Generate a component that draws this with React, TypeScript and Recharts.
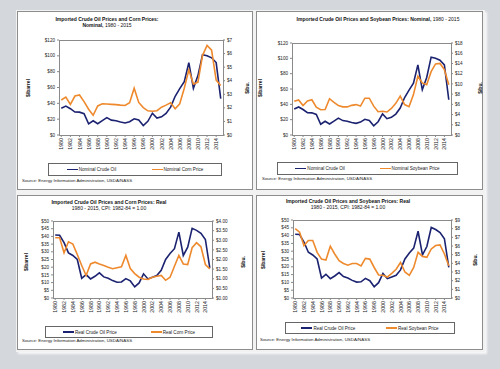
import React from 'react';
import { LineChart, Line, XAxis, YAxis } from 'recharts';

// Years on the category axis
const years = [
  '1980', '1981', '1982', '1983', '1984', '1985', '1986', '1987', '1988', '1989',
  '1990', '1991', '1992', '1993', '1994', '1995', '1996', '1997', '1998', '1999',
  '2000', '2001', '2002', '2003', '2004', '2005', '2006', '2007', '2008', '2009',
  '2010', '2011', '2012', '2013', '2014', '2015',
];

// $/barrel, nominal
const nominalCrude = [
  33.9, 36.5, 33.2, 29.0, 28.9, 26.9, 14.0, 17.9, 14.3, 18.1,
  22.0, 18.8, 18.0, 16.3, 15.2, 16.8, 20.5, 18.9, 12.0, 17.3,
  27.5, 21.3, 23.0, 27.3, 35.2, 48.9, 58.5, 67.5, 91.5, 59.0,
  75.0, 101.5, 100.0, 97.5, 91.5, 46.0,
];

// $/bu., nominal corn
const nominalCorn = [
  2.58, 2.8, 2.26, 2.87, 2.95, 2.46, 1.9, 1.45, 2.14, 2.3,
  2.28, 2.26, 2.24, 2.2, 2.17, 2.38, 3.45, 2.4, 2.02, 1.78,
  1.75, 1.79, 2.05, 2.2, 2.38, 1.94, 2.3, 3.45, 4.8, 3.75,
  3.9, 5.85, 6.6, 6.25, 4.05, 3.65,
];

// $/bu., nominal soybeans
const nominalSoy = [
  6.6, 6.85, 5.75, 6.65, 6.9, 5.45, 4.95, 5.0, 7.1, 6.4,
  5.75, 5.5, 5.5, 5.8, 5.95, 5.65, 7.2, 7.2, 5.65, 4.55,
  4.65, 4.5, 5.2, 6.2, 7.6, 5.95, 5.55, 7.9, 11.5, 10.2,
  9.85, 12.4, 13.9, 14.0, 12.8, 9.85,
];

// $/barrel, real (1982-84 = 1.00)
const realCrude = [
  40.9, 40.7, 35.9, 29.3, 27.6, 25.0, 12.8, 15.2, 12.4, 14.1,
  16.3, 13.7, 12.8, 11.3, 10.2, 10.4, 12.6, 11.1, 7.2, 9.8,
  15.7, 12.4, 13.5, 14.6, 18.0, 25.0, 28.9, 32.0, 42.8, 27.6,
  33.0, 45.2, 43.9, 42.0, 38.0, 19.6,
];

// $/bu., real corn
const realCorn = [
  3.13, 3.13, 2.35, 2.92, 2.8, 2.26, 1.69, 1.17, 1.77, 1.86,
  1.77, 1.69, 1.6, 1.52, 1.57, 1.62, 2.21, 1.53, 1.27, 1.08,
  0.99, 0.96, 1.08, 1.13, 1.17, 0.92, 1.08, 1.65, 2.21, 1.77,
  1.74, 2.61, 2.87, 2.66, 1.74, 1.51,
];

// $/bu., real soybeans
const realSoy = [
  8.0, 7.6, 6.05, 6.64, 6.64, 5.27, 4.49, 4.38, 5.98, 5.08,
  4.3, 3.98, 3.79, 3.98, 3.98, 3.71, 4.57, 4.49, 3.52, 2.66,
  2.62, 2.42, 2.85, 3.32, 4.1, 3.0, 2.62, 3.52, 5.27, 4.8,
  4.69, 5.66, 6.05, 6.13, 5.08, 3.71,
];

const nominalBarrelTicks = [0, 20, 40, 60, 80, 100, 120];
const realBarrelTicks = [0, 5, 10, 15, 20, 25, 30, 35, 40, 45, 50];
const nominalCornTicks = [0, 1, 2, 3, 4, 5, 6, 7];
const nominalSoyTicks = [0, 2, 4, 6, 8, 10, 12, 14, 16, 18];
const realCornTicks = [0, 0.5, 1, 1.5, 2, 2.5, 3, 3.5, 4];
const realSoyTicks = [0, 1, 2, 3, 4, 5, 6, 7, 8, 9];

const NAVY = '#1b2270';
const ORANGE = '#ee8a2d';
const FONT = '"Liberation Sans", Arial, sans-serif';
const SOURCE = 'Source: Energy Information Administration, USDA/NASS';

type Rect = { x: number; y: number; w: number; h: number };

const YearTick = (props: any) => {
  const { x, y, payload } = props;
  return (
    <text
      transform={`translate(${x},${y - 1}) rotate(-90)`}
      textAnchor="end"
      dominantBaseline="central"
      fontSize={5.3}
      fill="#222"
      fontFamily={FONT}
    >
      {payload.value}
    </text>
  );
};

interface PanelProps {
  box: Rect;
  plot: Rect;
  title: React.ReactNode;
  titleX: number;
  titleY: number;
  crude: number[];
  crop: number[];
  crudeName: string;
  cropName: string;
  leftTicks: number[];
  rightTicks: number[];
  rightFmt: (v: number) => string;
  legend: Rect;
  source: { x: number; y: number };
  labelL: { x: number; y: number };
  labelR: { x: number; y: number };
}

const Panel = (p: PanelProps) => {
  const { box, plot } = p;
  const data = years.map((year, i) => ({ year, crude: p.crude[i], crop: p.crop[i] }));
  const axisW = 20;
  const axisH = 20;
  const margin = {
    left: plot.x - box.x - axisW,
    right: box.x + box.w - (plot.x + plot.w) - axisW,
    top: plot.y - box.y,
    bottom: box.y + box.h - (plot.y + plot.h) - axisH,
  };
  const pad = plot.w / years.length / 2;
  const tickStyle = { fontSize: 4.6, fill: '#222', fontFamily: FONT };

  return (
    <>
      <div
        style={{
          position: 'absolute',
          left: box.x,
          top: box.y,
          width: box.w - 2,
          height: box.h - 2,
          border: '1px solid #8d8d8d',
          background: '#fff',
        }}
      />
      <div
        style={{
          position: 'absolute',
          left: p.titleX - 110,
          width: 220,
          top: p.titleY,
          textAlign: 'center',
          fontSize: 5,
          lineHeight: '6px',
          fontFamily: FONT,
          color: '#111',
        }}
      >
        {p.title}
      </div>
      <div style={{ position: 'absolute', left: box.x, top: box.y }}>
        <LineChart width={box.w} height={box.h} data={data} margin={margin}>
          <XAxis
            dataKey="year"
            height={axisH}
            interval={1}
            padding={{ left: pad, right: pad }}
            tick={<YearTick />}
            tickSize={2}
            axisLine={false}
            tickLine={{ stroke: '#888' }}
          />
          <YAxis
            yAxisId="left"
            width={axisW}
            domain={[0, p.leftTicks[p.leftTicks.length - 1]]}
            ticks={p.leftTicks}
            interval={0}
            tickFormatter={(v: number) => `$${v}`}
            tick={tickStyle}
            tickSize={2}
            tickMargin={2}
            axisLine={false}
            tickLine={{ stroke: '#888' }}
          />
          <YAxis
            yAxisId="right"
            orientation="right"
            width={axisW}
            domain={[0, p.rightTicks[p.rightTicks.length - 1]]}
            ticks={p.rightTicks}
            interval={0}
            tickFormatter={p.rightFmt}
            tick={tickStyle}
            tickSize={2}
            tickMargin={2}
            axisLine={false}
            tickLine={{ stroke: '#888' }}
          />
          <Line
            yAxisId="left"
            dataKey="crude"
            name={p.crudeName}
            type="linear"
            stroke={NAVY}
            strokeWidth={1.6}
            dot={false}
            isAnimationActive={false}
          />
          <Line
            yAxisId="right"
            dataKey="crop"
            name={p.cropName}
            type="linear"
            stroke={ORANGE}
            strokeWidth={1.6}
            dot={false}
            isAnimationActive={false}
          />
        </LineChart>
      </div>
      <div
        style={{
          position: 'absolute',
          left: plot.x,
          top: plot.y,
          width: plot.w - 1,
          height: plot.h - 1,
          border: '0.7px solid #8a8a8a',
          pointerEvents: 'none',
        }}
      />
      {/* legend */}
      <div
        style={{
          position: 'absolute',
          left: p.legend.x,
          top: p.legend.y,
          width: p.legend.w - 2,
          height: p.legend.h - 2,
          border: '1px solid #666',
          display: 'flex',
          alignItems: 'center',
          justifyContent: 'space-around',
          fontSize: 4.6,
          fontFamily: FONT,
          color: '#222',
        }}
      >
        {[
          { name: p.crudeName, color: NAVY },
          { name: p.cropName, color: ORANGE },
        ].map((it) => (
          <div key={it.name} style={{ display: 'flex', alignItems: 'center' }}>
            <span style={{ width: 11, height: 1.5, background: it.color, marginRight: 1 }} />
            <span>{it.name}</span>
          </div>
        ))}
      </div>
      <div
        style={{
          position: 'absolute',
          left: p.source.x,
          top: p.source.y - 3,
          fontSize: 4.4,
          fontFamily: FONT,
          color: '#222',
          whiteSpace: 'nowrap',
        }}
      >
        {SOURCE}
      </div>
      {[
        { t: '$/barrel', pos: p.labelL },
        { t: '$/bu.', pos: p.labelR },
      ].map((l) => (
        <div
          key={l.t}
          style={{
            position: 'absolute',
            left: l.pos.x,
            top: l.pos.y,
            transform: 'translate(-50%, -50%) rotate(-90deg)',
            fontSize: 5,
            fontWeight: 'bold',
            fontFamily: FONT,
            color: '#111',
            whiteSpace: 'nowrap',
          }}
        >
          {l.t}
        </div>
      ))}
    </>
  );
};

const App = () => {
  return (
    <div
      style={{
        position: 'absolute',
        left: 0,
        top: 0,
        width: 500,
        height: 369,
        background: '#d4d7dc',
        overflow: 'hidden',
      }}
    >
      <div
        style={{
          position: 'absolute',
          left: 16,
          top: 10,
          width: 469,
          height: 342,
          background: '#f2f2f2',
          boxShadow: '2px 2px 2px rgba(255,255,255,0.8)',
        }}
      />
      <Panel
        box={{ x: 17, y: 11, w: 236, h: 179 }}
        plot={{ x: 59, y: 40, w: 164, h: 95 }}
        title={
          <>
            <b>Imported Crude Oil Prices and Corn Prices:</b>
            <br />
            <b>Nominal,</b> 1980 - 2015
          </>
        }
        titleX={107}
        titleY={16}
        crude={nominalCrude}
        crop={nominalCorn}
        crudeName="Nominal Crude Oil"
        cropName="Nominal Corn Price"
        leftTicks={nominalBarrelTicks}
        rightTicks={nominalCornTicks}
        rightFmt={(v) => `$${v}`}
        legend={{ x: 48, y: 163, w: 174, h: 13 }}
        source={{ x: 22, y: 181 }}
        labelL={{ x: 28, y: 88 }}
        labelR={{ x: 247, y: 88 }}
      />
      <Panel
        box={{ x: 256, y: 11, w: 227, h: 179 }}
        plot={{ x: 292, y: 43, w: 159, h: 92 }}
        title={
          <>
            <b>Imported Crude Oil Prices and Soybean Prices: Nominal,</b> 1980 - 2015
          </>
        }
        titleX={378}
        titleY={16}
        crude={nominalCrude}
        crop={nominalSoy}
        crudeName="Nominal Crude Oil"
        cropName="Nominal Soybean Price"
        leftTicks={nominalBarrelTicks}
        rightTicks={nominalSoyTicks}
        rightFmt={(v) => `$${v}`}
        legend={{ x: 277, y: 162, w: 181, h: 13 }}
        source={{ x: 262, y: 179 }}
        labelL={{ x: 260, y: 88 }}
        labelR={{ x: 480, y: 88 }}
      />
      <Panel
        box={{ x: 17, y: 195, w: 236, h: 155 }}
        plot={{ x: 53, y: 221, w: 159, h: 77 }}
        title={
          <>
            <b>Imported Crude Oil Prices and Corn Prices: Real</b>
            <br />
            1980 - 2015, CPI: 1982-84 = 1.00
          </>
        }
        titleX={109}
        titleY={199}
        crude={realCrude}
        crop={realCorn}
        crudeName="Real Crude Oil Price"
        cropName="Real Corn Price"
        leftTicks={realBarrelTicks}
        rightTicks={realCornTicks}
        rightFmt={(v) => `$${v.toFixed(2)}`}
        legend={{ x: 45, y: 326, w: 168, h: 12 }}
        source={{ x: 22, y: 341 }}
        labelL={{ x: 26, y: 262 }}
        labelR={{ x: 243, y: 262 }}
      />
      <Panel
        box={{ x: 256, y: 195, w: 227, h: 155 }}
        plot={{ x: 293, y: 220, w: 158, h: 78 }}
        title={
          <>
            <b>Imported Crude Oil Prices and Soybean Prices: Real</b>
            <br />
            1980 - 2015, CPI: 1982-84 = 1.00
          </>
        }
        titleX={348}
        titleY={198}
        crude={realCrude}
        crop={realSoy}
        crudeName="Real Crude Oil Price"
        cropName="Real Soybean Price"
        leftTicks={realBarrelTicks}
        rightTicks={realSoyTicks}
        rightFmt={(v) => `$${v}`}
        legend={{ x: 285, y: 322, w: 170, h: 12 }}
        source={{ x: 260, y: 340 }}
        labelL={{ x: 263, y: 260 }}
        labelR={{ x: 475, y: 260 }}
      />
    </div>
  );
};

export default App;
